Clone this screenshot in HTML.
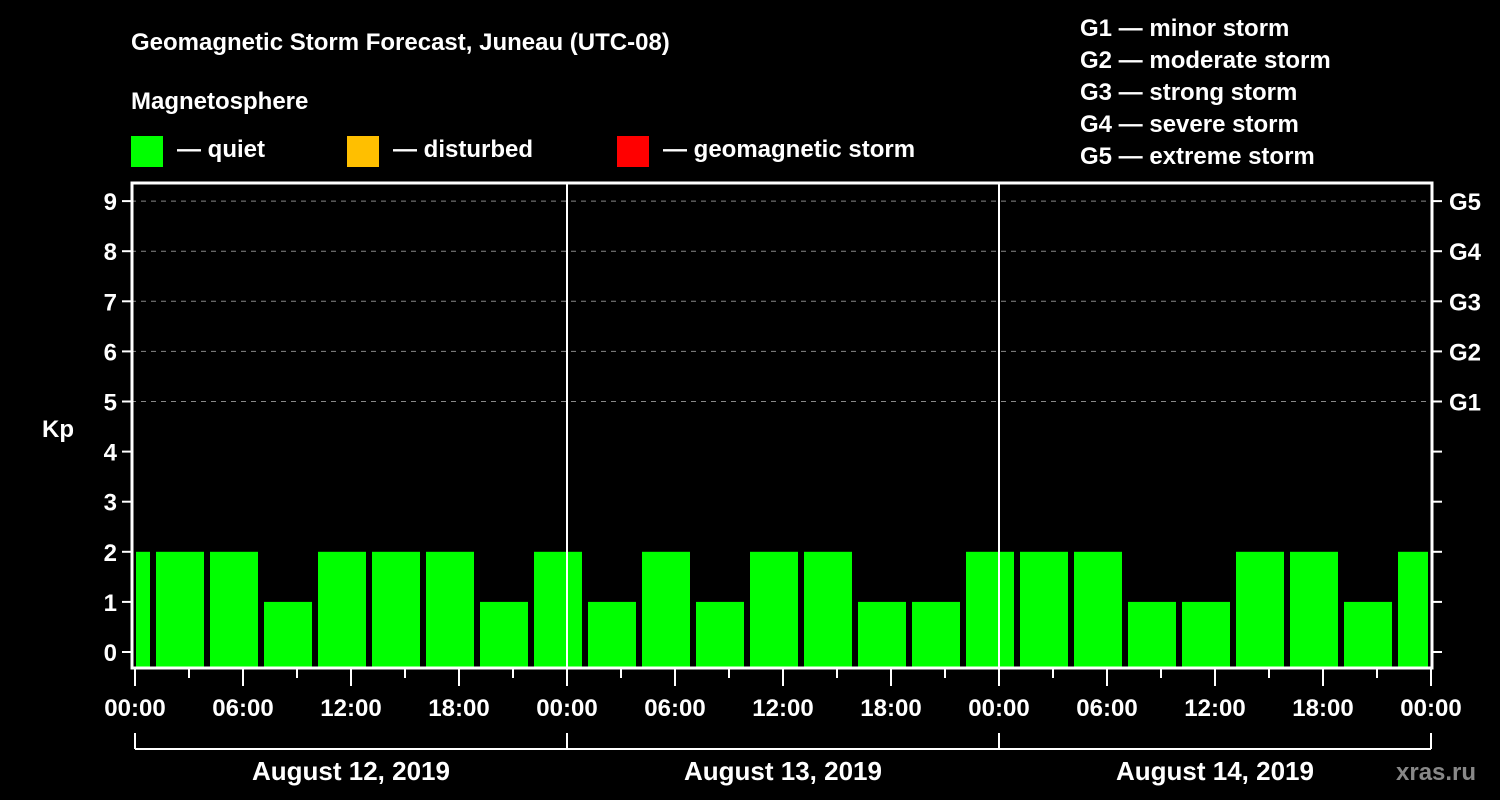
<!DOCTYPE html>
<html><head><meta charset="utf-8"><style>
body{margin:0;background:#000;}
svg{display:block;font-family:"Liberation Sans",Arial,sans-serif;font-weight:bold;}
</style></head><body>
<svg id="c" width="1500" height="800" viewBox="0 0 1500 800">
<rect width="1500" height="800" fill="#000"/>
<text x="131" y="50" fill="#fff" font-size="24">Geomagnetic Storm Forecast, Juneau (UTC-08)</text>
<text x="131" y="109" fill="#fff" font-size="24">Magnetosphere</text>
<g><rect x="131" y="136" width="32" height="31" fill="#00ff00"/><text x="177" y="157" fill="#fff" font-size="24">— quiet</text></g>
<g><rect x="347" y="136" width="32" height="31" fill="#ffbf00"/><text x="393" y="157" fill="#fff" font-size="24">— disturbed</text></g>
<g><rect x="617" y="136" width="32" height="31" fill="#ff0000"/><text x="663" y="157" fill="#fff" font-size="24">— geomagnetic storm</text></g>
<g fill="#fff" font-size="24">
<text x="1080" y="36">G1 — minor storm</text><text x="1080" y="68">G2 — moderate storm</text><text x="1080" y="100">G3 — strong storm</text><text x="1080" y="132">G4 — severe storm</text><text x="1080" y="164">G5 — extreme storm</text></g>
<text x="42" y="437" fill="#fff" font-size="24">Kp</text>
<text x="1396" y="780" fill="#888" font-size="24">xras.ru</text>
<g id="grid"></g><g id="bars"></g><g id="axes"></g>
</svg>
<script>
const kpValues=[2,2,2,1,2,2,2,1,2,1,2,1,2,2,1,1,2,2,2,1,1,2,2,1,2];
const startHours=[-2,1,4,7,10,13,16,19,22,25,28,31,34,37,40,43,46,49,52,55,58,61,64,67,70];
const dayLabels=["August 12, 2019","August 13, 2019","August 14, 2019"];
const hourLabels=["00:00","06:00","12:00","18:00"];
const gLabels=["G1","G2","G3","G4","G5"];
const NS="http://www.w3.org/2000/svg";
const X=h=>135+Math.max(0,Math.min(72,h))*18;
const Y=k=>652-k*50.1;
function mk(p,t,a){const e=document.createElementNS(NS,t);for(const k in a)e.setAttribute(k,a[k]);p.appendChild(e);return e;}
const grid=document.getElementById('grid'),bars=document.getElementById('bars'),axes=document.getElementById('axes');
for(let k=5;k<=9;k++){const l=mk(grid,'line',{x1:131,x2:1433,y1:Y(k),y2:Y(k),stroke:'#888','stroke-dasharray':'5,5','stroke-width':1});

}
kpValues.forEach((v,i)=>{const s=startHours[i];const x1=X(s)+(s<0?1:3),x2=X(s+3)-3;
const r=mk(bars,'rect',{x:x1,y:Y(v),width:x2-x1,height:668-Y(v),fill:v>=5?'#ff0000':(v>=4?'#ffbf00':'#00ff00')});

});
const box=mk(axes,'rect',{x:132,y:183,width:1300,height:485,fill:'none',stroke:'#fff','stroke-width':3});


for(let k=0;k<=9;k++){mk(axes,'line',{x1:122,x2:132,y1:Y(k),y2:Y(k),stroke:'#fff','stroke-width':2});
mk(axes,'line',{x1:1432,x2:1442,y1:Y(k),y2:Y(k),stroke:'#fff','stroke-width':2});
const t=mk(axes,'text',{x:117,y:Y(k)+9,fill:'#fff','font-size':24,'text-anchor':'end'});t.textContent=k;

}
gLabels.forEach((g,i)=>{const t=mk(axes,'text',{x:1449,y:Y(5+i)+9,fill:'#fff','font-size':24});t.textContent=g;

});
for(let h=0;h<=72;h+=3){const major=h%6===0;mk(axes,'line',{x1:X(h),x2:X(h),y1:668,y2:major?686:678,stroke:'#fff','stroke-width':2});
if(major){const t=mk(axes,'text',{x:X(h),y:716,fill:'#fff','font-size':24,'text-anchor':'middle'});t.textContent=hourLabels[(h/6)%4];

}}
for(let d=1;d<3;d++){const l=mk(axes,'line',{x1:X(d*24),x2:X(d*24),y1:183,y2:668,stroke:'#fff','stroke-width':2});

}
mk(axes,'line',{x1:X(0),x2:X(72),y1:749,y2:749,stroke:'#fff','stroke-width':2});
for(let d=0;d<=3;d++)mk(axes,'line',{x1:X(d*24),x2:X(d*24),y1:733,y2:749,stroke:'#fff','stroke-width':2});
dayLabels.forEach((s,i)=>{const t=mk(axes,'text',{x:X(i*24+12),y:780,fill:'#fff','font-size':26,'text-anchor':'middle'});t.textContent=s;

});
</script>
</body></html>
